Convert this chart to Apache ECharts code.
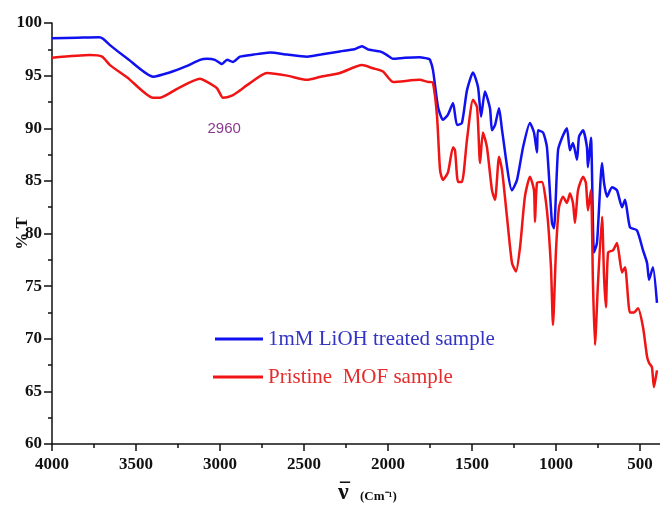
<!DOCTYPE html>
<html>
<head>
<meta charset="utf-8">
<script src="https://cdn.jsdelivr.net/npm/echarts@6/dist/echarts.min.js"></script>
<style>
  html, body { margin: 0; padding: 0; background: #fff; }
  #ftir { width: 660px; height: 523px; }
</style>
</head>
<body>
<div id="ftir"></div>
<script>
// treated sample (blue), wavenumber in cm-1 and %T
const lihWave = [4000, 3850, 3720, 3696, 3655, 3550, 3399, 3300, 3200, 3119, 3077, 3030, 2988, 2958, 2923, 2881, 2800, 2702, 2600, 2482, 2400, 2286, 2200, 2155, 2120, 2089, 2048, 2010, 1970, 1900, 1810, 1760,
  1750, 1732, 1702, 1673, 1643, 1613, 1589, 1560, 1530, 1494, 1464, 1446, 1423, 1393, 1381, 1363, 1339, 1321, 1262, 1232, 1196, 1155, 1131, 1113, 1107, 1077, 1054, 1024, 1012,
  988, 964, 935, 917, 899, 875, 863, 839, 816, 810, 792, 774, 756, 726, 714, 696, 667, 637, 607, 589, 560, 518, 482, 458, 446, 423, 399];
const lihT = [98.55, 98.6, 98.65, 98.5, 97.9, 96.6, 94.9, 95.3, 95.9, 96.5, 96.6, 96.5, 96.1, 96.5, 96.3, 96.8, 97.0, 97.2, 97.0, 96.8, 97.0, 97.3, 97.5, 97.8, 97.5, 97.4, 97.3, 97.0, 96.6, 96.7, 96.75, 96.6,
  96.5, 95.5, 92.0, 90.8, 91.3, 92.4, 90.3, 90.5, 93.6, 95.3, 93.9, 91.1, 93.5, 91.9, 89.8, 90.3, 91.9, 89.8, 84.1, 85.1, 88.2, 90.5, 89.6, 87.7, 89.8, 89.6, 88.2, 81.0, 80.5,
  87.9, 89.1, 90.0, 87.9, 88.6, 87.0, 89.2, 89.8, 88.2, 86.3, 89.1, 78.2, 79.1, 86.7, 84.8, 83.5, 84.4, 84.1, 82.5, 83.2, 80.6, 80.3, 78.4, 77.2, 75.6, 76.8, 73.4];

// pristine MOF (red)
const mofWave = [4000, 3774, 3702, 3655, 3550, 3399, 3357, 3250, 3119, 3077, 3018, 2982, 2929, 2881, 2839, 2720, 2600, 2482, 2400, 2286, 2155, 2090, 2030, 1970, 1810, 1760,
  1750, 1732, 1708, 1690, 1673, 1643, 1613, 1601, 1583, 1560, 1530, 1494, 1470, 1452, 1435, 1411, 1381, 1363, 1339, 1321, 1292, 1262, 1238, 1214, 1185, 1155, 1131, 1125, 1113, 1083, 1054, 1030, 1018,
  1000, 982, 958, 935, 917, 899, 887, 869, 839, 822, 810, 792, 780, 768, 750, 726, 714, 703, 690, 661, 637, 607, 589, 560, 536, 512, 482, 458, 446, 429, 417, 399];
const mofT = [96.7, 96.95, 96.8, 96.0, 94.8, 92.9, 92.9, 93.8, 94.7, 94.4, 93.8, 92.9, 93.1, 93.6, 94.1, 95.25, 95.0, 94.6, 94.9, 95.25, 96.0, 95.7, 95.4, 94.4, 94.6, 94.4,
  94.4, 94.3, 91.1, 86.0, 85.1, 85.8, 88.2, 87.9, 84.9, 84.9, 88.9, 92.7, 92.0, 86.7, 89.6, 88.2, 84.1, 83.2, 87.3, 86.0, 81.6, 77.2, 76.4, 78.7, 83.5, 85.4, 84.1, 81.1, 84.8, 84.9, 82.2, 76.8, 71.3,
  78.4, 82.5, 83.5, 82.9, 83.8, 82.9, 81.0, 84.1, 85.4, 84.8, 82.2, 84.1, 75.3, 69.4, 75.3, 81.6, 75.9, 73.0, 78.2, 78.4, 79.1, 76.3, 76.8, 72.5, 72.5, 72.9, 71.1, 68.3, 67.7, 67.3, 65.4, 67.0];

const seriesNames = ['1mM LiOH treated sample', 'Pristine  MOF sample'];
const peakLabel = { text: '2960', wave: 2975, t: 89.9 };

const zip = (xs, ys) => xs.map((x, i) => [x, ys[i]]);

const chart = echarts.init(document.getElementById('ftir'), null, { renderer: 'canvas' });

const serif = '"Liberation Serif", "Times New Roman", serif';

chart.setOption({
  backgroundColor: '#fff',
  animation: false,
  // axis runs past the right edge of the picture (0 cm-1 is off canvas)
  grid: { left: 52, top: 23, width: 672, height: 421, outerBoundsMode: 'none', containLabel: false },
  legend: [
    {
      data: [seriesNames[0]],
      left: 210, top: 322,
      icon: 'rect', itemWidth: 48, itemHeight: 3,
      textStyle: { color: '#3333c4', fontFamily: serif, fontSize: 21, lineHeight: 24, padding: [0, 0, 0, 0] }
    },
    {
      data: [seriesNames[1]],
      left: 208, top: 360,
      icon: 'rect', itemWidth: 50, itemHeight: 3,
      textStyle: { color: '#e52b2b', fontFamily: serif, fontSize: 21, lineHeight: 24, padding: [0, 0, 0, 0] }
    }
  ],
  xAxis: {
    type: 'value',
    inverse: true,
    min: 0, max: 4000, interval: 500,
    axisLine: { show: true, onZero: false, lineStyle: { color: '#111', width: 1.5 } },
    axisTick: { show: true, length: 7, lineStyle: { color: '#111', width: 1.5 } },
    minorTick: { show: true, splitNumber: 2, length: 4, lineStyle: { color: '#111', width: 1.5 } },
    splitLine: { show: false },
    axisLabel: { color: '#111', fontFamily: serif, fontWeight: 'bold', fontSize: 17, margin: 12, formatter: (v) => String(v) }
  },
  yAxis: {
    type: 'value',
    min: 60, max: 100, interval: 5,
    name: '% T',
    nameLocation: 'middle',
    nameRotate: 90,
    nameGap: 21,
    nameMoveOverlap: false,
    nameTextStyle: { color: '#111', fontFamily: serif, fontWeight: 'bold', fontSize: 17 },
    axisLine: { show: true, onZero: false, lineStyle: { color: '#111', width: 1.5 } },
    axisTick: { show: true, length: 8, lineStyle: { color: '#111', width: 1.5 } },
    minorTick: { show: true, splitNumber: 2, length: 4, lineStyle: { color: '#111', width: 1.5 } },
    splitLine: { show: false },
    axisLabel: { color: '#111', fontFamily: serif, fontWeight: 'bold', fontSize: 17, margin: 10 }
  },
  graphic: [
    {
      type: 'text',
      left: 338, top: 481,
      style: { text: 'ν', fontFamily: serif, fontWeight: 'bold', fontSize: 24, fill: '#111' }
    },
    {
      type: 'text',
      left: 340, top: 482,
      style: { text: '¯', fontFamily: serif, fontWeight: 'bold', fontSize: 20, fill: '#111' }
    },
    {
      type: 'text',
      left: 360, top: 490,
      style: { text: '(Cm⁻¹)', fontFamily: serif, fontWeight: 'bold', fontSize: 13, fill: '#111' }
    }
  ],
  series: [
    {
      name: seriesNames[0],
      type: 'line',
      data: zip(lihWave, lihT),
      showSymbol: false,
      smooth: 0.2,
      color: '#1010f0',
      lineStyle: { width: 2.5, color: '#1010f0' }
    },
    {
      name: seriesNames[1],
      type: 'line',
      data: zip(mofWave, mofT),
      showSymbol: false,
      smooth: 0.2,
      color: '#f01414',
      lineStyle: { width: 2.5, color: '#f01414' },
      markPoint: {
        symbol: 'circle', symbolSize: 0,
        data: [{ coord: [peakLabel.wave, peakLabel.t], value: peakLabel.text }],
        label: { show: true, formatter: peakLabel.text, color: '#8a3a8f', fontFamily: 'Arial, "Liberation Sans", sans-serif', fontSize: 15, position: 'inside' }
      }
    }
  ]
});
</script>
</body>
</html>
